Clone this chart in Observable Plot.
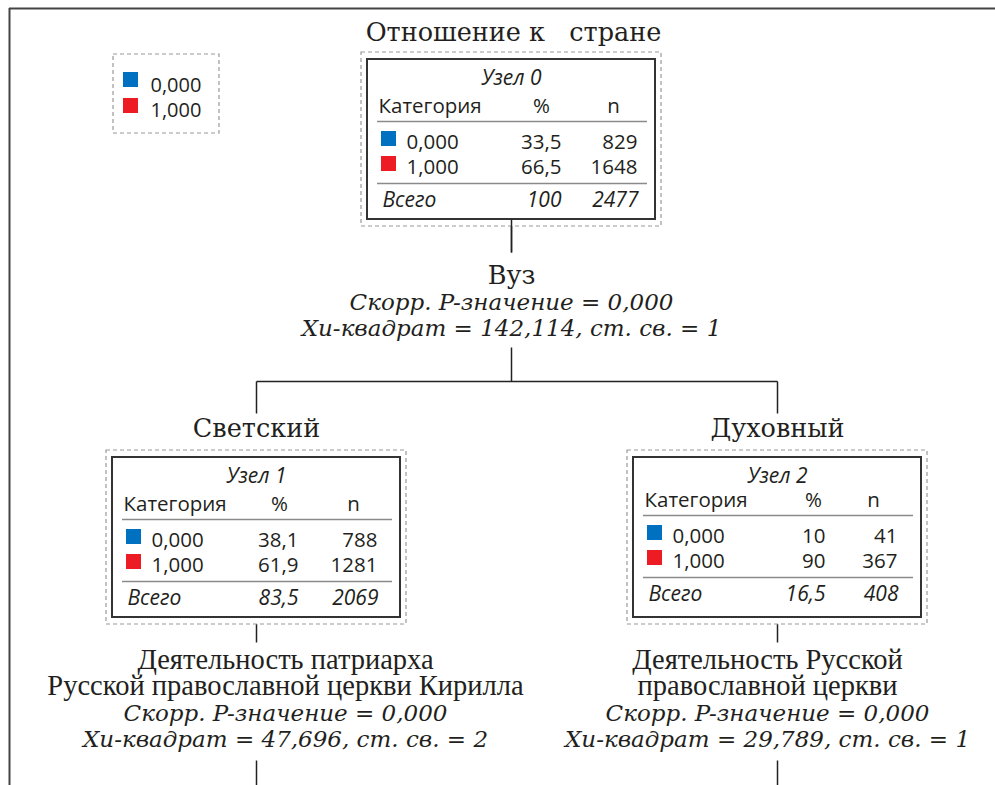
<!DOCTYPE html>
<html>
<head>
<meta charset="utf-8">
<script src="https://cdn.jsdelivr.net/npm/d3@7"></script>
<script src="https://cdn.jsdelivr.net/npm/@observablehq/plot@0.6"></script>
<style>
  html, body { margin: 0; padding: 0; background: #fff; overflow: hidden; }
  svg { display: block; }
</style>
</head>
<body>
<div id="chart"></div>
<script>
// ---------- data ----------
const categories = ["0,000", "1,000"];
const nodeNames = ["Узел 0", "Узел 1", "Узел 2"];
const pct0 = [33.5, 38.1, 10];
const pct1 = [66.5, 61.9, 90];
const count0 = [829, 788, 41];
const count1 = [1648, 1281, 367];
const totalPct = [100, 83.5, 16.5];
const totalN = [2477, 2069, 408];
const branchLabels = ["Отношение к   стране", "Светский", "Духовный"];
const splitVars = [["Вуз"], ["Деятельность патриарха", "Русской православной церкви Кирилла"], ["Деятельность Русской", "православной церкви"]];
const pValues = [0, 0, 0];
const chiSquare = [142.114, 47.696, 29.789];
const dfs = [1, 2, 1];
const colors = ["#0070c0", "#ed1c24"];

// ---------- layout ----------
const L = {
  cx: [511, 256, 777],
  top: [59, 457, 457],
  boxW: 288, boxH: 160,
  pctR: [194, 186, 192],
  nR: [270, 265, 264],
  pctHead: [174, 167, 180],
  dy: [0, 0, -4],
  branchY: [40, 436, 436],
  splitX: [511, 285, 767],
  splitY: [283, 668, 668],
  lineH: 26
};

const fmt = v => String(v).replace(".", ",");
const SANS = "'Open Sans', 'Noto Sans', sans-serif";
const SERIF = "'DejaVu Serif', serif";
const SERIF2 = "'Liberation Serif', 'DejaVu Serif', serif";
const INK = "#231f20";

const boxes = [], dashed = [], seps = [], squares = [], sansText = [], sansItalic = [], serifText = [], serifLower = [], serifItalic = [];
nodeNames.forEach((name, i) => {
  const xL = L.cx[i] - L.boxW / 2, y0 = L.top[i], d = L.dy[i];
  boxes.push({x1: xL, x2: xL + L.boxW, y1: y0, y2: y0 + L.boxH});
  dashed.push({x1: xL - 6, x2: xL + L.boxW + 6, y1: y0 - 7, y2: y0 + L.boxH + 7});
  seps.push({x1: xL + 10, x2: xL + L.boxW - 8, y: y0 + 62 + d});
  seps.push({x1: xL + 10, x2: xL + L.boxW - 8, y: y0 + 124 + d});
  sansItalic.push({x: L.cx[i], y: y0 + 25, text: name, anchor: "middle"});
  sansText.push({x: xL + 11, y: y0 + 53 + d, text: "Категория", anchor: "start"});
  sansText.push({x: xL + L.pctHead[i], y: y0 + 53 + d, text: "%", anchor: "middle"});
  sansText.push({x: xL + L.nR[i] - 24, y: y0 + 53 + d, text: "n", anchor: "middle"});
  const pcts = [pct0[i], pct1[i]], cnts = [count0[i], count1[i]];
  categories.forEach((c, k) => {
    const by = y0 + 89 + 25 * k + d;
    squares.push({x1: xL + 14, x2: xL + 29, y1: by - 17, y2: by - 2, cat: c});
    sansText.push({x: xL + 39, y: by, text: c, anchor: "start"});
    sansText.push({x: xL + L.pctR[i], y: by, text: fmt(pcts[k]), anchor: "end"});
    sansText.push({x: xL + L.nR[i], y: by, text: String(cnts[k]), anchor: "end"});
  });
  sansItalic.push({x: xL + 15, y: y0 + 147 + d, text: "Всего", anchor: "start"});
  sansItalic.push({x: xL + L.pctR[i], y: y0 + 147 + d, text: fmt(totalPct[i]), anchor: "end"});
  sansItalic.push({x: xL + L.nR[i] + 1, y: y0 + 147 + d, text: String(totalN[i]), anchor: "end"});

  serifText.push({x: L.cx[i] + (i === 0 ? 2 : 0), y: L.branchY[i], text: branchLabels[i]});
  let yy = L.splitY[i];
  splitVars[i].forEach(t => {
    (i === 0 ? serifText : serifLower).push({x: L.splitX[i], y: yy, text: t});
    yy += L.lineH;
  });
  serifItalic.push({x: L.splitX[i], y: yy, text: `Скорр. P-значение = ${pValues[i].toFixed(3).replace(".", ",")}`});
  yy += L.lineH;
  serifItalic.push({x: L.splitX[i], y: yy, text: `Хи-квадрат = ${fmt(chiSquare[i])}, ст. св. = ${dfs[i]}`});
});

// connectors
const links = [
  {x1: 511, y1: L.top[0] + L.boxH, x2: 511, y2: 252},
  {x1: 511, y1: 347, x2: 511, y2: 381},
  {x1: 256, y1: 381, x2: 777, y2: 381},
  {x1: 256, y1: 381, x2: 256, y2: 413},
  {x1: 777, y1: 381, x2: 777, y2: 413},
  {x1: 256, y1: 617, x2: 256, y2: 642},
  {x1: 777, y1: 617, x2: 777, y2: 642},
  {x1: 256, y1: 760, x2: 256, y2: 785},
  {x1: 777, y1: 760, x2: 777, y2: 785}
];
const frameTop = [{x1: 9, x2: 995, y: 8}];
const frameLeft = [{x: 9, y1: 8, y2: 785}];

// legend
const legendBox = [{x1: 113, x2: 219, y1: 54, y2: 133}];
const legendSq = categories.map((c, k) => ({x1: 123, x2: 138, y1: 72 + 26 * k, y2: 87 + 26 * k, cat: c}));
const legendTx = categories.map((c, k) => ({x: 150, y: 91 + 25 * k, text: c}));

const sansOpts = {x: "x", y: "y", text: "text", lineAnchor: "bottom", fontFamily: SANS, fontSize: 20.5, fill: INK};
const italOpts = {...sansOpts, fontStyle: "italic", fontSize: 21};
const byAnchor = (arr, a) => arr.filter(d => d.anchor === a);

const chart = Plot.plot({
  width: 995, height: 785,
  margin: 0,
  x: {type: "identity", axis: null},
  y: {type: "identity", axis: null},
  color: {domain: categories, range: colors},
  style: {background: "#fff", overflow: "hidden"},
  marks: [
    Plot.ruleY(frameTop, {x1: "x1", x2: "x2", y: "y", stroke: "#444", strokeWidth: 2}),
    Plot.ruleX(frameLeft, {x: "x", y1: "y1", y2: "y2", stroke: "#444", strokeWidth: 2}),
    Plot.rect(legendBox, {x1: "x1", x2: "x2", y1: "y1", y2: "y2", fill: "none", stroke: "#9a9a9a", strokeWidth: 1.2, strokeDasharray: "4,3"}),
    Plot.rect(legendSq, {x1: "x1", x2: "x2", y1: "y1", y2: "y2", fill: "cat"}),
    Plot.text(legendTx, {...sansOpts, textAnchor: "start", fontSize: 20}),
    Plot.link(links, {x1: "x1", y1: "y1", x2: "x2", y2: "y2", stroke: "#222", strokeWidth: 1.5}),
    Plot.rect(dashed, {x1: "x1", x2: "x2", y1: "y1", y2: "y2", fill: "#fff", stroke: "#9a9a9a", strokeWidth: 1.2, strokeDasharray: "4,3"}),
    Plot.rect(boxes, {x1: "x1", x2: "x2", y1: "y1", y2: "y2", fill: "#fff", stroke: "#333", strokeWidth: 2}),
    Plot.link(links.slice(0, 1), {x1: "x1", y1: "y1", x2: "x2", y2: "y2", stroke: "#222", strokeWidth: 1.5}),
    Plot.ruleY(seps, {x1: "x1", x2: "x2", y: "y", stroke: "#8a8a8a", strokeWidth: 1.6}),
    Plot.rect(squares, {x1: "x1", x2: "x2", y1: "y1", y2: "y2", fill: "cat"}),
    Plot.text(byAnchor(sansText, "start"), {...sansOpts, textAnchor: "start"}),
    Plot.text(byAnchor(sansText, "middle"), {...sansOpts, textAnchor: "middle"}),
    Plot.text(byAnchor(sansText, "end"), {...sansOpts, textAnchor: "end"}),
    Plot.text(byAnchor(sansItalic, "start"), {...italOpts, textAnchor: "start"}),
    Plot.text(byAnchor(sansItalic, "middle"), {...italOpts, textAnchor: "middle"}),
    Plot.text(byAnchor(sansItalic, "end"), {...italOpts, textAnchor: "end"}),
    Plot.text(serifText, {x: "x", y: "y", text: "text", textAnchor: "middle", lineAnchor: "bottom", fontFamily: SERIF, fontSize: 25.5, fill: INK}),
    Plot.text(serifLower, {x: "x", y: "y", text: "text", textAnchor: "middle", lineAnchor: "bottom", fontFamily: SERIF2, fontSize: 28.5, fill: INK}),
    Plot.text(serifItalic, {x: "x", y: "y", text: "text", textAnchor: "middle", lineAnchor: "bottom", fontFamily: SERIF, fontStyle: "italic", fontSize: 23, fill: INK})
  ]
});
document.getElementById("chart").appendChild(chart);
</script>
</body>
</html>
